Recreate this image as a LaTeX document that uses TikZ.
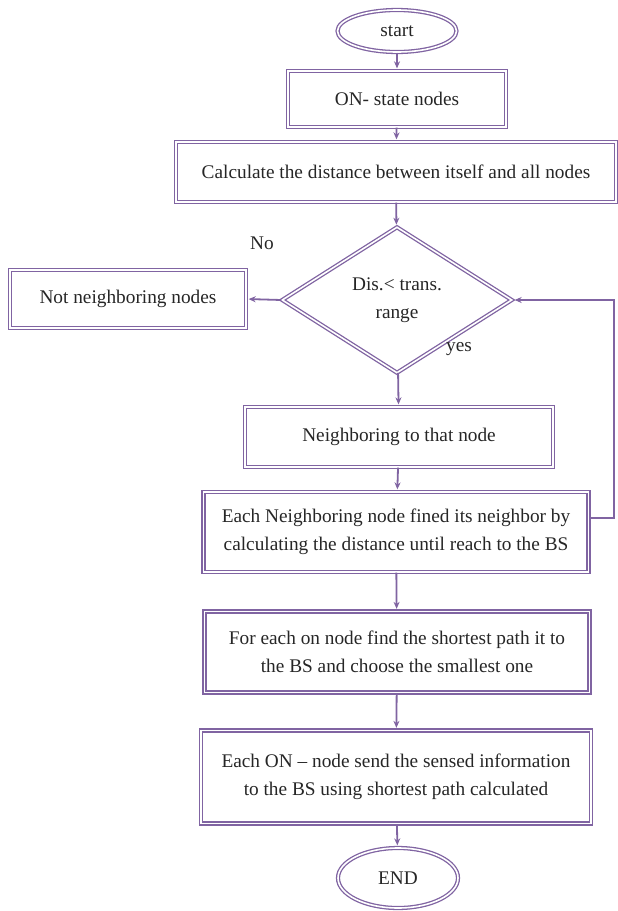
\documentclass[tikz,border=0pt]{standalone}
\usepackage{fontspec}
\setmainfont{Liberation Serif}
\usetikzlibrary{shapes.geometric, arrows.meta}
\definecolor{flowpurple}{HTML}{8064A2}
\begin{document}
\begin{tikzpicture}[x=1pt, y=-1pt,
        >={Stealth[length=7pt, width=6pt]},
        every node/.style={font=\fontsize{19.3}{28}\selectfont, text=black!85},
        box/.style={rectangle, draw=flowpurple, double, double distance=1.6pt, line width=1.3pt, inner sep=0pt, align=center},
        term/.style={ellipse, draw=flowpurple, double, double distance=1.6pt, line width=1.3pt, inner sep=0pt},
        decision/.style={diamond, draw=flowpurple, double, double distance=1.6pt, line width=1.3pt, inner sep=0pt, align=center},
        link/.style={->, draw=flowpurple, line width=1.8pt, shorten >=2pt}]

        \useasboundingbox (0, 0) rectangle (618, 911);

        \draw (397, 31) node[term, minimum width=119pt, minimum height=42pt] (start) {start};
        \draw (397, 99) node[box, minimum width=218pt, minimum height=56pt] (on) {ON- state nodes};
        \draw (396, 172) node[box, minimum width=440pt, minimum height=60pt] (calc) {Calculate the distance between itself and all nodes};
        \draw (397, 300) node[decision, minimum width=230pt, minimum height=146pt] (dec) {Dis.< trans.\\ range};
        \draw (128, 299) node[box, minimum width=236pt, minimum height=58pt] (notnb) {Not neighboring nodes};
        \draw (399, 437) node[box, minimum width=308pt, minimum height=60pt] (nb) {Neighboring to that node};
        \draw (396, 532) node[box, minimum width=385pt, minimum height=80pt] (eachnb) {Each Neighboring node fined its neighbor by\\ calculating the distance until reach to the BS};
        \draw (397, 652) node[box, minimum width=385pt, minimum height=81pt] (shortest) {For each on node find the shortest path it to\\ the BS and choose the smallest one};
        \draw (396, 777) node[box, minimum width=390pt, minimum height=93pt] (send) {Each ON -- node send the sensed information\\ to the BS using shortest path calculated};
        \draw (398, 878) node[term, minimum width=120pt, minimum height=60pt] (end) {END};

        \node at (262, 243) (no) {No};
        \node at (459, 349) (yes) {yes};
        \coordinate (back) at (614, 300);

        \draw [link] (start) -- (on);
        \draw [link] (on) -- (calc);
        \draw [link] (calc) -- (dec);
        \draw [link] (dec.west) -- (notnb.east);
        \draw [link] (dec) -- (nb);
        \draw [link] (nb) -- (eachnb);
        \draw [link] ([yshift=14pt]eachnb.east) -| (back) -- (dec.east);
        \draw [link] (eachnb) -- (shortest);
        \draw [link] (shortest) -- (send);
        \draw [link] (send) -- (end);
\end{tikzpicture}
\end{document}
